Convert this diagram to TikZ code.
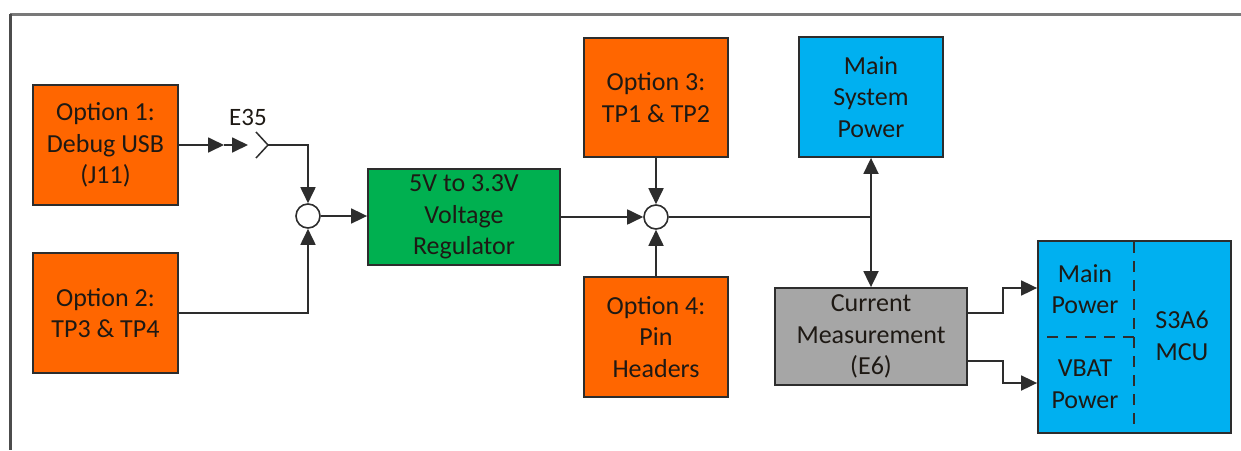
\documentclass[tikz,border=0pt]{standalone}
\usepackage{fontspec}
\setmainfont{Carlito}
\usetikzlibrary{arrows.meta,calc}
\definecolor{optorange}{RGB}{255,102,0}
\definecolor{reggreen}{RGB}{0,176,80}
\definecolor{pwrblue}{RGB}{0,176,240}
\definecolor{cmgray}{RGB}{166,166,166}
\definecolor{edgec}{RGB}{45,45,45}
\definecolor{txtc}{RGB}{30,25,20}
\tikzset{
  blk/.style={draw=edgec, line width=1.8pt, minimum width=#1, inner sep=0pt, align=center,
    font=\fontsize{26}{31.5}\selectfont, text=txtc},
  sumc/.style={draw=edgec, fill=white, line width=1.6pt, circle, minimum size=24pt, inner sep=0pt},
  conn/.style={draw=edgec, line width=1.8pt},
  arr/.style={conn, -{Triangle[length=16pt,width=15pt]}},
  dsh/.style={draw=edgec, line width=1.6pt, dash pattern=on 11pt off 8pt},
  lbl/.style={inner sep=0pt, align=center, font=\fontsize{26}{31.5}\selectfont, text=txtc}
}
\begin{document}
\begin{tikzpicture}[x=1pt,y=-1pt]
\useasboundingbox (0,0) rectangle (1241,450);
% frame
\draw[draw=gray!95!black, line width=3pt] (10,14) -- (1241,14);
\draw[draw=black!70, line width=3pt] (10,14) -- (10,450);
% blocks
\node[blk=145pt, minimum height=120pt, fill=optorange] (o1) at (105.5,145) {Option 1:\\Debug USB\\(J11)};
\node[blk=145pt, minimum height=120pt, fill=optorange] (o2) at (105.5,313) {Option 2:\\TP3 \& TP4};
\node[blk=192pt, minimum height=96pt, fill=reggreen] (reg) at (464,217) {5V to 3.3V\\Voltage\\Regulator};
\node[blk=144pt, minimum height=119pt, fill=optorange] (o3) at (656,97.5) {Option 3:\\TP1 \& TP2};
\node[blk=144pt, minimum height=120pt, fill=optorange] (o4) at (656,337) {Option 4:\\Pin\\Headers};
\node[blk=144pt, minimum height=120pt, fill=pwrblue] (msp) at (871,97) {Main\\System\\Power};
\node[blk=192pt, minimum height=97pt, fill=cmgray] (cm) at (871,336.5) {Current\\Measurement\\(E6)};
\node[blk=193pt, minimum height=192pt, fill=pwrblue] (mcu) at (1134.5,337) {};
\node[lbl] (mcut) at (1182,336) {S3A6\\MCU};
\node[lbl] (mpw) at (1085,289) {Main\\Power};
\node[lbl] (vbat) at (1085,384) {VBAT\\Power};
\draw[dsh] (1134,242) -- (1134,432);
\draw[dsh] (1047,337) -- (1134,337);
% summing circles
\node[sumc] (c1) at (308,216) {};
\node[sumc] (c2) at (656,217) {};
% E35 jumper
\node[lbl, font=\fontsize{25}{30}\selectfont] (e35) at (248,117) {E35};
\coordinate (ja) at (224,145);
\coordinate (jb) at (248,145);
\coordinate (jc1) at (256,132);
\coordinate (jc) at (268,145);
\coordinate (jc2) at (256,158);
\coordinate (jd) at (308,145);
\draw[arr] (o1.east) -- (ja);
\draw[arr] (ja) -- (jb);
\draw[conn, line width=1.5pt] (jc1) -- (jc) -- (jc2);
\draw[arr] (jc) -- (jd) -- (c1.north);
\coordinate (o2c) at (308,313);
\draw[arr] (o2.east |- o2c) -- (o2c) -- (c1.south);
\draw[arr] (c1.east) -- (reg.west |- c1.east);
\draw[arr] (reg.east |- c2.west) -- (c2.west);
\draw[arr] (o3.south) -- (c2.north);
\draw[arr] (o4.north) -- (c2.south);
\coordinate (jn) at (871,217);
\draw[conn] (c2.east) -- (jn);
\draw[arr] (jn) -- (msp.south);
\draw[arr] (jn) -- (cm.north);
% CM to MCU
\coordinate (u1) at (967,313);
\coordinate (u2) at (1003,288);
\coordinate (d1) at (967,361);
\coordinate (d2) at (1003,383);
\draw[arr] (u1) -| (u2) -- (mcu.west |- u2);
\draw[arr] (d1) -| (d2) -- (mcu.west |- d2);
\end{tikzpicture}
\end{document}
